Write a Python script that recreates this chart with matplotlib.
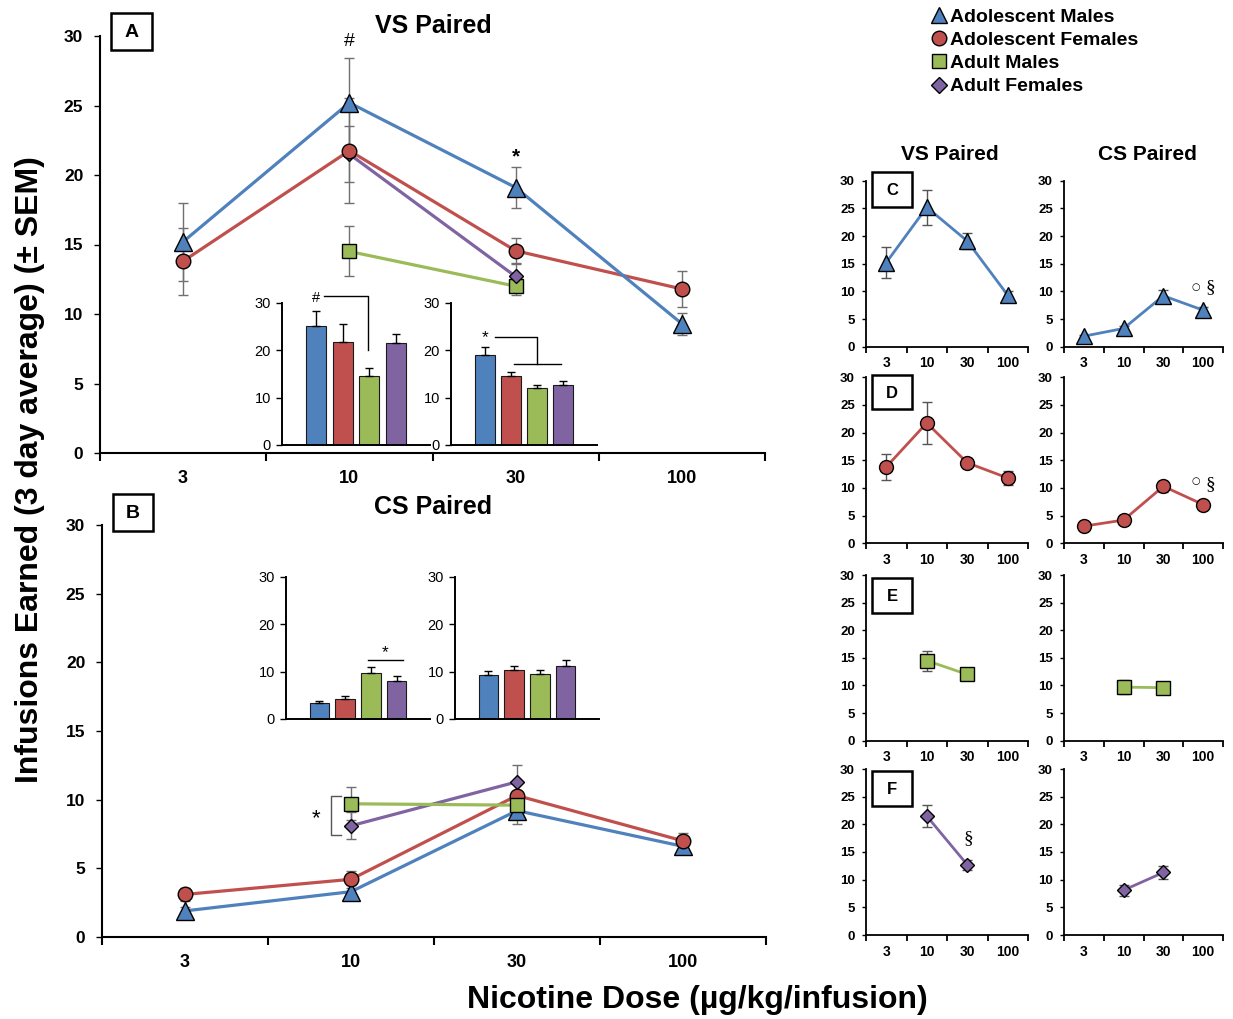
import numpy as np
import matplotlib
matplotlib.use('Agg')
import matplotlib.pyplot as plt
from matplotlib import font_manager
from matplotlib.lines import Line2D
from matplotlib.patches import Rectangle

W, H = 1233, 1019
DPI = 100

# ---------------- data ----------------
doses = ['3', '10', '30', '100']
groups = ['Adolescent Males', 'Adolescent Females', 'Adult Males', 'Adult Females']
nan = np.nan

# VS paired (mean, SEM)
vs_adol_m = [15.2, 25.2, 19.1, 9.3]
vs_adol_m_sem = [2.8, 3.2, 1.5, 0.8]
vs_adol_f = [13.8, 21.75, 14.55, 11.8]
vs_adol_f_sem = [2.4, 3.8, 0.9, 1.3]
vs_adult_m = [nan, 14.5, 12.0, nan]
vs_adult_m_sem = [nan, 1.8, 0.6, nan]
vs_adult_f = [nan, 21.5, 12.7, nan]
vs_adult_f_sem = [nan, 2.0, 0.9, nan]

# CS paired (mean, SEM)
cs_adol_m = [1.9, 3.3, 9.2, 6.6]
cs_adol_m_sem = [0.3, 0.5, 1.0, 0.5]
cs_adol_f = [3.1, 4.2, 10.3, 7.0]
cs_adol_f_sem = [0.5, 0.6, 1.0, 0.6]
cs_adult_m = [nan, 9.7, 9.6, nan]
cs_adult_m_sem = [nan, 1.2, 0.8, nan]
cs_adult_f = [nan, 8.1, 11.3, nan]
cs_adult_f_sem = [nan, 1.0, 1.2, nan]

vs_means = [vs_adol_m, vs_adol_f, vs_adult_m, vs_adult_f]
vs_sems = [vs_adol_m_sem, vs_adol_f_sem, vs_adult_m_sem, vs_adult_f_sem]
cs_means = [cs_adol_m, cs_adol_f, cs_adult_m, cs_adult_f]
cs_sems = [cs_adol_m_sem, cs_adol_f_sem, cs_adult_m_sem, cs_adult_f_sem]

colors = ['#4F81BD', '#C0504D', '#9BBB59', '#8064A2']
markers = ['^', 'o', 's', 'D']
ms_main = [12.5, 10.5, 10, 7.2]
ms_small = [11.5, 10, 10.5, 7.3]

# ---------------- fonts ----------------
plt.rcParams['font.family'] = ['Liberation Sans', 'DejaVu Sans']
names = {f.name for f in font_manager.fontManager.ttflist}
NARROW = 'Liberation Sans Narrow' if 'Liberation Sans Narrow' in names else 'Liberation Sans'

fig = plt.figure(figsize=(W / DPI, H / DPI), dpi=DPI)


def px_axes(l, t, r, b):
    return fig.add_axes([l / W, 1 - b / H, (r - l) / W, (b - t) / H])


x = np.arange(len(doses))


def style_cat(ax, ylab_size, xlab_size, ytick_len, ypad, xpad, xtick_len, spine_w):
    ax.set_xlim(-0.5, len(doses) - 0.5)
    ax.set_ylim(0, 30)
    for s in ['top', 'right']:
        ax.spines[s].set_visible(False)
    for s in ['left', 'bottom']:
        ax.spines[s].set_linewidth(spine_w)
    ax.set_yticks(np.arange(0, 31, 5))
    ax.tick_params(axis='y', direction='out', length=ytick_len, width=1.0, pad=ypad,
                   labelsize=ylab_size)
    for lab in ax.get_yticklabels():
        lab.set_fontweight('bold')
    ax.set_xticks(np.arange(-0.5, len(doses)))
    ax.set_xticklabels([])
    ax.tick_params(axis='x', which='major', direction='out', length=xtick_len, width=spine_w)
    ax.set_xticks(x, minor=True)
    ax.set_xticklabels(doses, minor=True, fontweight='bold', fontsize=xlab_size)
    ax.tick_params(axis='x', which='minor', length=0, pad=xpad)


def draw_lines(ax, means, sems, ms, lw, capsize, order):
    for i in order:
        ax.errorbar(x, means[i], yerr=sems[i], fmt='none', ecolor='#707070',
                    elinewidth=1.0, capsize=capsize, capthick=1.0, zorder=2)
    for i in order:
        ax.plot(x, means[i], color=colors[i], lw=lw, marker=markers[i], ms=ms[i],
                mfc=colors[i], mec='black', mew=1.0, zorder=3 + order.index(i))


# ---------------- main panels ----------------
axA = px_axes(100, 36, 765, 453)
style_cat(axA, 12.5, 13, 4, 8, 12, 6, 1.5)
draw_lines(axA, vs_means, vs_sems, ms_main, 2.3, 3.5, [2, 3, 1, 0])
axA.text(1, 29.6, '#', ha='center', va='center', fontsize=14)
axA.text(2, 21.3, '*', ha='center', va='center', fontsize=15, fontweight='bold')

axB = px_axes(102, 525, 766, 937)
style_cat(axB, 12.5, 13, 4, 8, 12, 6, 1.5)
draw_lines(axB, cs_means, cs_sems, ms_main, 2.3, 3.5, [3, 0, 1, 2])
# bracket between adult groups at 10
axB.plot([0.94, 0.88, 0.88, 0.94], [10.3, 10.3, 7.4, 7.4], color='#555555', lw=1.0,
         clip_on=False)
axB.text(0.79, 8.6, '*', ha='center', va='center', fontsize=16)


# ---------------- inset bar charts ----------------
def inset(l, t, r, b, col, means, sems):
    ax = px_axes(l, t, r, b)
    vals = [m[col] for m in means]
    errs = [s[col] for s in sems]
    bx = np.arange(4)
    ax.bar(bx, vals, width=0.76, color=colors, edgecolor='#1a1a1a', linewidth=0.8, zorder=2)
    ax.errorbar(bx, vals, yerr=[np.zeros(4), errs], fmt='none', ecolor='black',
                elinewidth=1.0, capsize=3, capthick=1.0, zorder=3)
    ax.set_xlim(-1.3, 4.3)
    ax.set_ylim(0, 30)
    ax.patch.set_alpha(0)
    for s in ['top', 'right']:
        ax.spines[s].set_visible(False)
    for s in ['left', 'bottom']:
        ax.spines[s].set_linewidth(1.4)
    ax.set_xticks([])
    ax.set_yticks([0, 10, 20, 30])
    ax.tick_params(axis='y', direction='out', length=4, width=1.0, pad=4, labelsize=10.5)
    for lab in ax.get_yticklabels():
        lab.set_fontfamily(NARROW)
    return ax


iA1 = inset(282, 303, 430, 445, 1, vs_means, vs_sems)
iA1.text(0, 31.0, '#', ha='center', va='center', fontsize=10.5, family=NARROW)
iA1.plot([0.3, 1.95, 1.95], [31.4, 31.4, 20.0], color='black', lw=1.0, clip_on=False)

iA2 = inset(451, 303, 597, 445, 2, vs_means, vs_sems)
iA2.text(0, 22.6, '*', ha='center', va='center', fontsize=12.5)
iA2.plot([0.4, 2.0, 2.0], [22.8, 22.8, 17.1], color='black', lw=1.0, clip_on=False)
iA2.plot([1.1, 2.9], [17.1, 17.1], color='black', lw=1.0, clip_on=False)

iB1 = inset(286, 577, 430, 719, 1, cs_means, cs_sems)
iB1.plot([1.9, 3.25], [12.5, 12.5], color='black', lw=1.0, clip_on=False)
iB1.text(2.55, 14.0, '*', ha='center', va='center', fontsize=12.5)

iB2 = inset(455, 577, 599, 719, 2, cs_means, cs_sems)

# ---------------- small panels ----------------
col_x = [(866, 1028), (1064, 1223)]
row_y = [(180.7, 346.7), (377.3, 543.3), (575, 740.7), (769, 935)]
small_axes = {}
for g in range(4):
    t, b = row_y[g]
    for c, (means, sems) in enumerate([(vs_means, vs_sems), (cs_means, cs_sems)]):
        l, r = col_x[c]
        ax = px_axes(l, t, r, b)
        style_cat(ax, 9.5, 10, 3, 5, 7, 4, 1.3)
        ax.errorbar(x, means[g], yerr=sems[g], fmt='none', ecolor='#555555',
                    elinewidth=1.0, capsize=3.5, capthick=1.0, zorder=2)
        ax.plot(x, means[g], color=colors[g], lw=2.0, marker=markers[g], ms=ms_small[g],
                mfc=colors[g], mec='black', mew=1.0, zorder=3)
        small_axes[(g, c)] = ax

for g in (0, 1):
    ax = small_axes[(g, 1)]
    yy = 10.8 if g == 0 else 11.2
    ax.text(2.82, yy, '\u25cb', ha='center', va='center', fontsize=7, family='DejaVu Sans')
    ax.text(3.17, 10.6, '\u00a7', ha='center', va='center', fontsize=14, family='Liberation Serif')
small_axes[(3, 0)].text(2.04, 17.5, '\u00a7', ha='center', va='center', fontsize=14,
                        family='Liberation Serif')

# ---------------- overlay: labels, boxes, titles ----------------
ov = fig.add_axes([0, 0, 1, 1])
ov.set_xlim(0, W)
ov.set_ylim(H, 0)
ov.axis('off')
ov.set_zorder(20)

boxes = [('A', 111, 13, 152, 50, 14), ('B', 113, 494, 153, 531, 14),
         ('C', 872, 172, 912, 207, 12), ('D', 872, 375, 912, 409, 12),
         ('E', 872, 578, 912, 613, 12), ('F', 872, 771, 912, 806, 12)]
for lab, l, t, r, b, fs in boxes:
    ov.add_patch(Rectangle((l, t), r - l, b - t, facecolor='white', edgecolor='black', lw=1.8))
    ov.text((l + r) / 2, (t + b) / 2 + 1, lab, ha='center', va='center', fontsize=fs,
            fontweight='bold')

ov.text(433, 26, 'VS Paired', ha='center', va='center', fontsize=18, fontweight='bold')
ov.text(433, 507, 'CS Paired', ha='center', va='center', fontsize=18, fontweight='bold')
ov.text(950, 154, 'VS Paired', ha='center', va='center', fontsize=15, fontweight='bold')
ov.text(1147, 154, 'CS Paired', ha='center', va='center', fontsize=15, fontweight='bold')

ov.text(30, 470, 'Infusions Earned (3 day average) (\u00b1 SEM)', rotation=90, ha='center',
        va='center', fontsize=23, fontweight='bold')
ov.text(697, 1000, 'Nicotine Dose (\u00b5g/kg/infusion)', ha='center', va='center',
        fontsize=23, fontweight='bold')

handles = [Line2D([], [], ls='none', marker=markers[i], ms=[12, 10.5, 10.5, 8][i],
                  mfc=colors[i], mec='black', mew=1.0) for i in range(4)]
fig.legend(handles, groups, loc='upper left', bbox_to_anchor=(932 / W, 1 - 8 / H),
           frameon=False, prop={'weight': 'bold', 'size': 14}, handlelength=0.75,
           handletextpad=0.2, labelspacing=0.29, borderpad=0, borderaxespad=0)

fig.savefig('out.png', dpi=DPI)
